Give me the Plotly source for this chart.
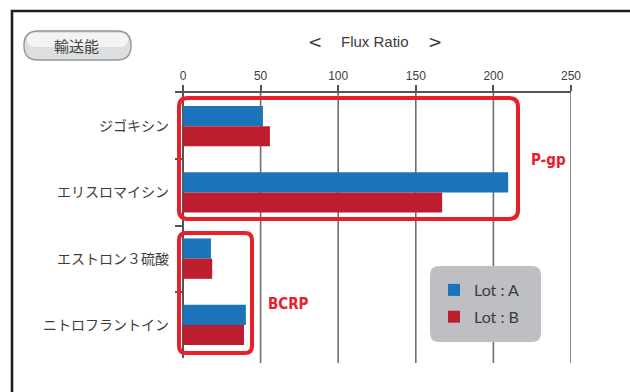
import plotly.graph_objects as go

# --- data -------------------------------------------------------------
compounds = ["ジゴキシン", "エリスロマイシン", "エストロン３硫酸", "ニトロフラントイン"]
lot_a = [51.5, 209.5, 18.0, 40.5]
lot_b = [56.0, 167.0, 18.8, 39.3]
series_names = ["Lot : A", "Lot : B"]
series_colors = ["#1b73b9", "#bd1e2e"]
x_ticks = [0, 50, 100, 150, 200, 250]

W, H = 630, 392
RED = "#e8202a"
GRID = "#6f6f6f"
TXT = "#3c3c3c"


def px(x):
    return x / W


def py(y):
    return 1 - y / H


def rrect_path(x0, y0, x1, y1, r):
    """Rounded rectangle in pixel coordinates -> SVG path in paper coordinates."""
    def p(x, y):
        return f"{px(x):.5f},{py(y):.5f}"
    return (
        f"M {p(x0 + r, y0)} L {p(x1 - r, y0)} Q {p(x1, y0)} {p(x1, y0 + r)} "
        f"L {p(x1, y1 - r)} Q {p(x1, y1)} {p(x1 - r, y1)} "
        f"L {p(x0 + r, y1)} Q {p(x0, y1)} {p(x0, y1 - r)} "
        f"L {p(x0, y0 + r)} Q {p(x0, y0)} {p(x0 + r, y0)} Z"
    )


fig = go.Figure()
for name, vals, col in zip(series_names, [lot_a, lot_b], series_colors):
    fig.add_trace(go.Bar(
        y=compounds, x=vals, name=name, orientation="h",
        marker=dict(color=col, line=dict(width=0)),
        legendgroup=name,
    ))

shapes = []

# outer frame (top and left edges)
shapes.append(dict(
    type="path", xref="paper", yref="paper",
    path=f"M {px(12)},{py(392)} L {px(12)},{py(11)} L {px(630)},{py(11)}",
    line=dict(color="#1e1e1e", width=2.6), layer="below",
))

# vertical grid lines, extended a little past the plot area
for t in x_ticks[1:]:
    shapes.append(dict(
        type="line", xref="x", yref="paper", x0=t, x1=t,
        y0=py(363), y1=py(93), line=dict(color=GRID, width=1.6), layer="below",
    ))

# "輸送能" button: body, lower shade and top highlight
shapes.append(dict(
    type="path", xref="paper", yref="paper", path=rrect_path(24, 31, 131, 60, 14),
    fillcolor="#dcdee0", line=dict(color="#8e959c", width=1.4), layer="below",
))
shapes.append(dict(
    type="path", xref="paper", yref="paper", path=rrect_path(27, 33, 128, 47, 8),
    fillcolor="#f4f4f4", line=dict(width=0), layer="below",
))

# group boxes
shapes.append(dict(
    type="path", xref="paper", yref="paper", path=rrect_path(179, 98, 518, 219, 9),
    line=dict(color=RED, width=4),
))
shapes.append(dict(
    type="path", xref="paper", yref="paper", path=rrect_path(179, 233, 252, 353, 7),
    line=dict(color=RED, width=4),
))

# legend background
shapes.append(dict(
    type="path", xref="paper", yref="paper", path=rrect_path(430, 266, 541, 342, 9),
    fillcolor="#bebfc3", line=dict(width=0), layer="above",
))

title_font = dict(family="Liberation Sans", size=15, color=TXT)
bracket_font = dict(family="DejaVu Sans", size=17, color=TXT)
annotations = [
    dict(text="輸送能", x=px(76.5), y=py(46), xref="paper", yref="paper",
         showarrow=False, font=dict(family="Noto Sans CJK JP", size=15, color="#444444"),
         xanchor="center", yanchor="middle"),
    dict(text="<", x=px(315), y=py(42), xref="paper", yref="paper", showarrow=False,
         font=bracket_font, xanchor="center", yanchor="middle"),
    dict(text="Flux Ratio", x=px(375), y=py(42), xref="paper", yref="paper", showarrow=False,
         font=title_font, xanchor="center", yanchor="middle"),
    dict(text=">", x=px(435), y=py(42), xref="paper", yref="paper", showarrow=False,
         font=bracket_font, xanchor="center", yanchor="middle"),
    dict(text="<b>P-gp</b>", x=px(529), y=py(160), xref="paper", yref="paper",
         showarrow=False, font=dict(family="DejaVu Sans Condensed", size=15, color=RED),
         xanchor="left", yanchor="middle"),
    dict(text="<b>BCRP</b>", x=px(266), y=py(304), xref="paper", yref="paper",
         showarrow=False, font=dict(family="DejaVu Sans Condensed", size=15, color=RED),
         xanchor="left", yanchor="middle"),
]

fig.update_layout(
    width=W, height=H,
    margin=dict(l=0, r=0, t=0, b=0, autoexpand=False),
    paper_bgcolor="white", plot_bgcolor="rgba(0,0,0,0)",
    barmode="group", bargap=0.39, bargroupgap=0,
    shapes=shapes, annotations=annotations,
    showlegend=True,
    legend=dict(
        x=px(434), y=py(273), xanchor="left", yanchor="top",
        bgcolor="rgba(0,0,0,0)", borderwidth=0,
        font=dict(family="Lato", size=16, color=TXT),
        tracegroupgap=3, itemwidth=30,
    ),
    xaxis=dict(
        side="top", range=[-(183 - 175) / 1.552, 250],
        domain=[px(175), px(571)], automargin=False,
        tickvals=x_ticks, ticks="outside", ticklen=6, tickwidth=1.5, tickcolor="#555",
        showline=True, linecolor="#555", linewidth=1.6,
        showgrid=False, zeroline=True, zerolinecolor="#555", zerolinewidth=1.6,
        tickfont=dict(family="Liberation Sans", size=12, color=TXT),
        fixedrange=True,
    ),
    yaxis=dict(
        type="category", categoryarray=compounds, autorange="reversed",
        domain=[py(358), py(93)], automargin=False,
        ticks="inside", tickson="boundaries", ticklen=7, tickwidth=2, tickcolor="#555",
        showline=False, showgrid=False, zeroline=False,
        tickfont=dict(family="Noto Sans CJK JP", size=14, color=TXT),
        ticklabelstandoff=5,
        fixedrange=True,
    ),
)

fig.write_html("out.html")
